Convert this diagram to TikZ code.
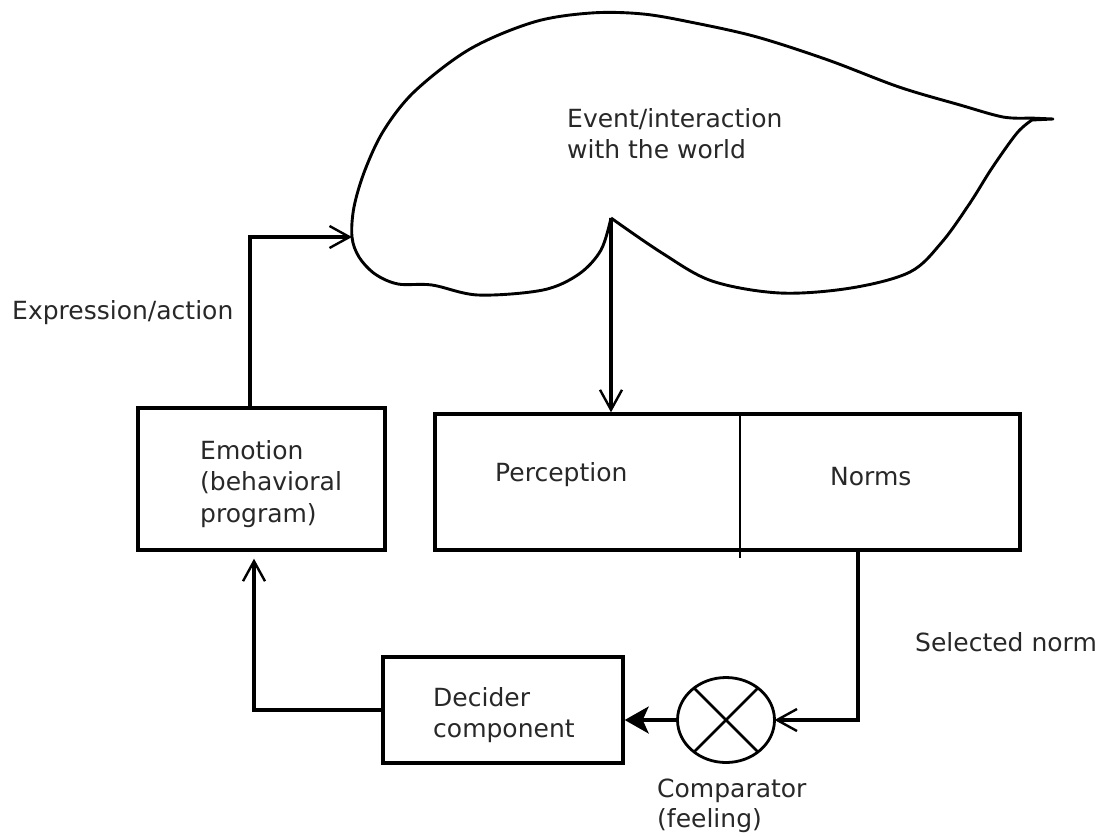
\documentclass[tikz,border=0pt]{standalone}
\usepackage{fontspec}
\setmainfont{DejaVu Sans}
\usetikzlibrary{arrows.meta,shapes.geometric}
\definecolor{textc}{RGB}{40,40,40}
\tikzset{
  conn/.style={line width=3.3pt},
  barb/.style={-{Straight Barb[length=20pt,width=22pt,line width=2.4pt]}},
  solidtip/.style={-{Stealth[length=24pt,width=27pt,inset=6pt]}},
  boxnode/.style={draw,line width=3.4pt,rectangle,inner sep=0pt},
  lbl/.style={anchor=north west,inner sep=0pt,align=left,text=textc,
    font=\fontsize{25}{31.5}\selectfont},
  cloudline/.style={line width=2.9pt,line join=round},
}
\begin{document}
\begin{tikzpicture}[x=1pt,y=-1pt]
\useasboundingbox (0,0) rectangle (1105,836);
\fill[white] (0,0) rectangle (1105,836);

% cloud
\draw[cloudline] plot[smooth,tension=0.55] coordinates {(611,218) (601,250) (579,274) (543,290) (478,295) (432,285) (398,284) (375,274) (359,257) (352,237) (354,207) (365,170) (384,130) (415,91) (470,49) (534,22) (591,13) (643,14) (695,23) (757,37) (828,60) (899,87) (960,105) (1003,117) (1030,118)} -- (1053,119) -- (1032,120)
  -- plot[smooth,tension=0.55] coordinates {(1032,120) (1017,133) (992,168) (970,203) (942,242) (910,272) (851,288) (780,293) (712,281) (662,253) (611,218)};
\coordinate (cusp) at (611,218);
\coordinate (cloudin) at (352,237);

% boxes
\node[boxnode,minimum width=247pt,minimum height=142pt] (emo) at (261.5,479) {};
\node[boxnode,minimum width=585pt,minimum height=136pt] (pn) at (727.5,482) {};
\node[boxnode,minimum width=240pt,minimum height=106pt] (dec) at (503,710) {};
\node[draw,ellipse,line width=2.8pt,minimum width=97pt,minimum height=85pt,inner sep=0pt,outer sep=0pt] (comp) at (726,720) {};
\draw[line width=2.6pt] (comp.45) -- (comp.225) (comp.135) -- (comp.315);

% divider
\coordinate (div) at (740,558);
\draw[line width=1.6pt] (pn.north -| div) -- (div);
\coordinate (normsout) at (858,550);

% labels
\node[lbl] (ev) at (567,108) {Event/interaction\\with the world};
\node[lbl] (ea) at (12,300) {Expression/action};
\node[lbl] (emt) at (200,440) {Emotion\\(behavioral\\program)};
\node[lbl] (per) at (495,462) {Perception};
\node[lbl] (nor) at (830,467) {Norms};
\node[lbl] (sel) at (915,632) {Selected norm};
\node[lbl] (dect) at (433,687) {Decider\\component};
\node[lbl,font=\fontsize{25}{30}\selectfont] (cmt) at (657,779) {Comparator\\(feeling)};

% connectors
\draw[conn,barb] (cusp) -- (cusp |- pn.north);
\draw[conn,barb] ([xshift=-11.5pt]emo.north) |- (cloudin);
\draw[conn,barb,shorten >=7pt] (dec.west) -| ([xshift=-7.5pt]emo.south);
\draw[conn,barb] (normsout) |- (comp.east);
\draw[conn,solidtip] (comp.west) -- (comp.west -| dec.east);
\end{tikzpicture}
\end{document}
